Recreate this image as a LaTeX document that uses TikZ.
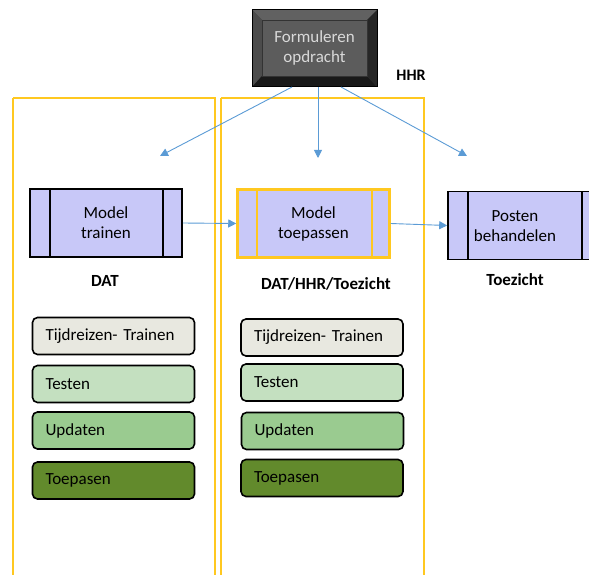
\documentclass[tikz,border=0pt]{standalone}
\usepackage{fontspec}
\setmainfont{Carlito}
\usetikzlibrary{arrows.meta}
\definecolor{frameyel}{HTML}{FFC820}
\definecolor{arrblue}{HTML}{5B9BD5}
\definecolor{lav}{HTML}{C8C8F8}
\definecolor{c1}{HTML}{E8E8E0}
\definecolor{c2}{HTML}{C4E0C0}
\definecolor{c3}{HTML}{9ACB90}
\definecolor{c4}{HTML}{628A2C}
\tikzset{
  frame/.style={draw=frameyel, line width=2.5pt},
  conn/.style={draw=arrblue, line width=0.9pt, -{Triangle[length=8pt,width=8pt]}},
  modelbox/.style={draw=black, line width=1.6pt, fill=lav, minimum width=152pt, minimum height=68pt, align=center, font=\fontsize{17}{20}\selectfont, inner sep=0pt},
  tag/.style={font=\bfseries\fontsize{17}{20}\selectfont},
  listbox/.style={draw=black, line width=1.6pt, rounded corners=5pt, minimum width=162pt, minimum height=37pt, text width=136pt, align=left, font=\fontsize{17}{20}\selectfont, inner sep=0pt},
}
\begin{document}
\begin{tikzpicture}[x=1pt,y=-1pt]
\useasboundingbox (0,0) rectangle (589,575);
% frames
\draw[frame] (13,98) -- (13,580) (13,98) -- (215,98) -- (215,580);
\draw[frame] (221,98) -- (221,580) (221,98) -- (424,98) -- (424,580);
% top bevel box
\fill[black!78] (252,10) rectangle (377,87);
\fill[black!62] (252,10) -- (377,10) -- (367,20) -- (262,20) -- cycle;
\fill[black!70] (252,10) -- (262,20) -- (262,76) -- (252,87) -- cycle;
\fill[black!90] (252,87) -- (262,76) -- (367,76) -- (377,87) -- cycle;
\fill[black!85] (377,10) -- (367,20) -- (367,76) -- (377,87) -- cycle;
\node[fill=black!64, draw=black!80, minimum width=105pt, minimum height=56pt, align=center, text=black!15, font=\fontsize{17}{20}\selectfont, inner sep=0pt] (form) at (314.5,48) {Formuleren\\opdracht};
\draw[black, line width=1pt] (252,10) rectangle (377,87);
\node[tag, font=\bfseries\fontsize{16}{18}\selectfont] (hhr) at (411,75) {HHR};
% connector ends
\coordinate (fs1) at (292,87);
\coordinate (fs2) at (318,87);
\coordinate (fs3) at (341,87);
\coordinate (tl) at (160,156);
\coordinate (tm) at (318,158);
\coordinate (tr) at (467,156);
\draw[conn] (fs1) -- (tl);
\draw[conn] (fs2) -- (tm);
\draw[conn] (fs3) -- (tr);
% model boxes
\node[modelbox] (train) at (106,223) {Model\\trainen};
\draw[black, line width=1.4pt] (50,189) -- (50,257) (163,189) -- (163,257);
\node[modelbox, draw=frameyel, line width=2.5pt] (apply) at (313.5,223.5) {Model\\toepassen};
\draw[frameyel, line width=2pt] (257,190) -- (257,257) (372,190) -- (372,257);
\node[modelbox, minimum width=160pt] (post) at (528,225.5) {};
\draw[black, line width=1.4pt] (468,192) -- (468,259) (582,192) -- (582,259);
\node[font=\fontsize{17}{20}\selectfont, align=center] (posttext) at (515,226) {Posten\\behandelen};
\draw[conn] (train.east) -- (apply.west);
\draw[conn] (apply.east) -- (post.west);
% tags
\node[tag] (dat) at (105,281) {DAT};
\node[tag] (mid) at (326,284) {DAT/HHR/Toezicht};
\node[tag] (toez) at (515,280) {Toezicht};
% lists left
\node[listbox, fill=c1] (l1) at (113.5,336) {Tijdreizen- Trainen};
\node[listbox, fill=c2] (l2) at (113.5,384) {Testen};
\node[listbox, fill=c3] (l3) at (113.5,430.5) {Updaten};
\node[listbox, fill=c4] (l4) at (113.5,480.5) {Toepasen};
% lists middle
\node[listbox, fill=c1] (m1) at (322,337.5) {Tijdreizen- Trainen};
\node[listbox, fill=c2] (m2) at (322,382.5) {Testen};
\node[listbox, fill=c3] (m3) at (322.5,431) {Updaten};
\node[listbox, fill=c4] (m4) at (322,478) {Toepasen};
\end{tikzpicture}
\end{document}
